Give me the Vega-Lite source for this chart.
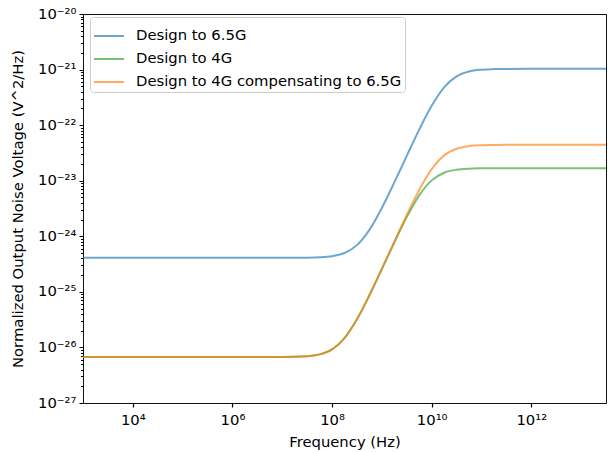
{
  "$schema": "https://vega.github.io/schema/vega-lite/v6.json",
  "width": 523,
  "height": 389,
  "autosize": "none",
  "padding": {"left": 83, "top": 14, "right": 2, "bottom": 49},
  "background": "white",
  "config": {
    "view": {"stroke": "#111", "strokeWidth": 1},
    "font": "DejaVu Sans",
    "axis": {"grid": false, "domain": false, "ticks": true, "labelFont": "DejaVu Sans", "titleFont": "DejaVu Sans", "labelColor": "#000", "titleColor": "#000", "tickColor": "#000", "tickOpacity": 1, "tickWidth": 1, "titleFontWeight": "normal", "labelFontSize": 14.8, "titleFontSize": 14.8, "labelOverlap": false, "labelFlush": false, "labelBound": false}
  },
  "data": {"values": [
    {"series": "Design to 6.5G", "f": 1e3, "v": 4.10e-25},
    {"series": "Design to 6.5G", "f": 1e4, "v": 4.10e-25},
    {"series": "Design to 6.5G", "f": 1e5, "v": 4.10e-25},
    {"series": "Design to 6.5G", "f": 1e6, "v": 4.10e-25},
    {"series": "Design to 6.5G", "f": 1e7, "v": 4.10e-25},
    {"series": "Design to 6.5G", "f": 3.162e7, "v": 4.13e-25},
    {"series": "Design to 6.5G", "f": 5.623e7, "v": 4.19e-25},
    {"series": "Design to 6.5G", "f": 1e8, "v": 4.39e-25},
    {"series": "Design to 6.5G", "f": 1.778e8, "v": 5.00e-25},
    {"series": "Design to 6.5G", "f": 3.162e8, "v": 6.93e-25},
    {"series": "Design to 6.5G", "f": 5.623e8, "v": 1.306e-24},
    {"series": "Design to 6.5G", "f": 1e9, "v": 3.236e-24},
    {"series": "Design to 6.5G", "f": 1.778e9, "v": 9.31e-24},
    {"series": "Design to 6.5G", "f": 3.162e9, "v": 2.80e-23},
    {"series": "Design to 6.5G", "f": 5.623e9, "v": 8.30e-23},
    {"series": "Design to 6.5G", "f": 1e10, "v": 2.228e-22},
    {"series": "Design to 6.5G", "f": 1.778e10, "v": 4.80e-22},
    {"series": "Design to 6.5G", "f": 3.162e10, "v": 7.55e-22},
    {"series": "Design to 6.5G", "f": 5.623e10, "v": 9.25e-22},
    {"series": "Design to 6.5G", "f": 1e11, "v": 9.95e-22},
    {"series": "Design to 6.5G", "f": 1.778e11, "v": 1.019e-21},
    {"series": "Design to 6.5G", "f": 3.162e11, "v": 1.026e-21},
    {"series": "Design to 6.5G", "f": 1e12, "v": 1.03e-21},
    {"series": "Design to 6.5G", "f": 1e13, "v": 1.03e-21},
    {"series": "Design to 6.5G", "f": 3.162e13, "v": 1.03e-21},
    {"series": "Design to 4G", "f": 1e3, "v": 6.70e-27},
    {"series": "Design to 4G", "f": 1e4, "v": 6.70e-27},
    {"series": "Design to 4G", "f": 1e5, "v": 6.70e-27},
    {"series": "Design to 4G", "f": 1e6, "v": 6.70e-27},
    {"series": "Design to 4G", "f": 1e7, "v": 6.73e-27},
    {"series": "Design to 4G", "f": 3.162e7, "v": 6.95e-27},
    {"series": "Design to 4G", "f": 5.623e7, "v": 7.50e-27},
    {"series": "Design to 4G", "f": 1e8, "v": 9.25e-27},
    {"series": "Design to 4G", "f": 1.778e8, "v": 1.476e-26},
    {"series": "Design to 4G", "f": 3.162e8, "v": 3.214e-26},
    {"series": "Design to 4G", "f": 5.623e8, "v": 8.67e-26},
    {"series": "Design to 4G", "f": 1e9, "v": 2.576e-25},
    {"series": "Design to 4G", "f": 1.778e9, "v": 7.74e-25},
    {"series": "Design to 4G", "f": 3.162e9, "v": 2.218e-24},
    {"series": "Design to 4G", "f": 5.623e9, "v": 5.46e-24},
    {"series": "Design to 4G", "f": 1e10, "v": 1.014e-23},
    {"series": "Design to 4G", "f": 1.778e10, "v": 1.393e-23},
    {"series": "Design to 4G", "f": 3.162e10, "v": 1.578e-23},
    {"series": "Design to 4G", "f": 5.623e10, "v": 1.648e-23},
    {"series": "Design to 4G", "f": 1e11, "v": 1.671e-23},
    {"series": "Design to 4G", "f": 1.778e11, "v": 1.680e-23},
    {"series": "Design to 4G", "f": 3.162e11, "v": 1.683e-23},
    {"series": "Design to 4G", "f": 1e12, "v": 1.683e-23},
    {"series": "Design to 4G", "f": 1e13, "v": 1.683e-23},
    {"series": "Design to 4G", "f": 3.162e13, "v": 1.683e-23},
    {"series": "Design to 4G compensating to 6.5G", "f": 1e3, "v": 6.70e-27},
    {"series": "Design to 4G compensating to 6.5G", "f": 1e4, "v": 6.70e-27},
    {"series": "Design to 4G compensating to 6.5G", "f": 1e5, "v": 6.70e-27},
    {"series": "Design to 4G compensating to 6.5G", "f": 1e6, "v": 6.70e-27},
    {"series": "Design to 4G compensating to 6.5G", "f": 1e7, "v": 6.73e-27},
    {"series": "Design to 4G compensating to 6.5G", "f": 3.162e7, "v": 6.95e-27},
    {"series": "Design to 4G compensating to 6.5G", "f": 5.623e7, "v": 7.50e-27},
    {"series": "Design to 4G compensating to 6.5G", "f": 1e8, "v": 9.25e-27},
    {"series": "Design to 4G compensating to 6.5G", "f": 1.778e8, "v": 1.476e-26},
    {"series": "Design to 4G compensating to 6.5G", "f": 3.162e8, "v": 3.214e-26},
    {"series": "Design to 4G compensating to 6.5G", "f": 5.623e8, "v": 8.71e-26},
    {"series": "Design to 4G compensating to 6.5G", "f": 1e9, "v": 2.600e-25},
    {"series": "Design to 4G compensating to 6.5G", "f": 1.778e9, "v": 7.98e-25},
    {"series": "Design to 4G compensating to 6.5G", "f": 3.162e9, "v": 2.415e-24},
    {"series": "Design to 4G compensating to 6.5G", "f": 5.623e9, "v": 6.82e-24},
    {"series": "Design to 4G compensating to 6.5G", "f": 1e10, "v": 1.618e-23},
    {"series": "Design to 4G compensating to 6.5G", "f": 1.778e10, "v": 2.858e-23},
    {"series": "Design to 4G compensating to 6.5G", "f": 3.162e10, "v": 3.767e-23},
    {"series": "Design to 4G compensating to 6.5G", "f": 5.623e10, "v": 4.198e-23},
    {"series": "Design to 4G compensating to 6.5G", "f": 1e11, "v": 4.345e-23},
    {"series": "Design to 4G compensating to 6.5G", "f": 1.778e11, "v": 4.395e-23},
    {"series": "Design to 4G compensating to 6.5G", "f": 3.162e11, "v": 4.416e-23},
    {"series": "Design to 4G compensating to 6.5G", "f": 1e12, "v": 4.426e-23},
    {"series": "Design to 4G compensating to 6.5G", "f": 1e13, "v": 4.426e-23},
    {"series": "Design to 4G compensating to 6.5G", "f": 3.162e13, "v": 4.426e-23}
  ]},
  "mark": {"type": "line", "strokeWidth": 2, "opacity": 0.65, "interpolate": "monotone", "clip": true},
  "encoding": {
    "x": {
      "field": "f", "type": "quantitative",
      "scale": {"type": "log", "domain": [1000, 3.162e13], "nice": false},
      "axis": {
        "title": "Frequency (Hz)",
        "values": [1e4, 1e6, 1e8, 1e10, 1e12],
        "tickCount": 100,
        "ticks": true,
        "tickSize": 4,
        "tickWidth": 1.2,
        "tickColor": "#000",
        "labelPadding": 5,
        "labelExpr": "round(log(datum.value)/LN10) < 10 ? '10' + substring('⁰¹²³⁴⁵⁶⁷⁸⁹', round(log(datum.value)/LN10), round(log(datum.value)/LN10) + 1) : '10¹' + substring('⁰¹²³⁴⁵⁶⁷⁸⁹', round(log(datum.value)/LN10) - 10, round(log(datum.value)/LN10) - 9)",
        "titleX": 261.5,
        "titleY": 43.5,
        "titleBaseline": "alphabetic",
        "titleAlign": "center"
      }
    },
    "y": {
      "field": "v", "type": "quantitative",
      "scale": {"type": "log", "domain": [1e-27, 1e-20], "nice": false},
      "axis": {
        "title": "Normalized Output Noise Voltage (V^2/Hz)",
        "values": [1e-27, 2e-27, 3e-27, 4e-27, 5e-27, 6e-27, 7e-27, 8e-27, 9e-27,
                   1e-26, 2e-26, 3e-26, 4e-26, 5e-26, 6e-26, 7e-26, 8e-26, 9e-26,
                   1e-25, 2e-25, 3e-25, 4e-25, 5e-25, 6e-25, 7e-25, 8e-25, 9e-25,
                   1e-24, 2e-24, 3e-24, 4e-24, 5e-24, 6e-24, 7e-24, 8e-24, 9e-24,
                   1e-23, 2e-23, 3e-23, 4e-23, 5e-23, 6e-23, 7e-23, 8e-23, 9e-23,
                   1e-22, 2e-22, 3e-22, 4e-22, 5e-22, 6e-22, 7e-22, 8e-22, 9e-22,
                   1e-21, 2e-21, 3e-21, 4e-21, 5e-21, 6e-21, 7e-21, 8e-21, 9e-21,
                   1e-20],
        "tickCount": 100,
        "ticks": true,
        "tickSize": {"condition": {"test": "abs(log(datum.value)/LN10 - round(log(datum.value)/LN10)) < 0.001", "value": 4}, "value": 2.5},
        "tickWidth": 1,
        "tickColor": "#000",
        "labelPadding": 3,
        "labelBaseline": "middle",
        "labelExpr": "abs(log(datum.value)/LN10 - round(log(datum.value)/LN10)) > 0.001 ? '' : '10⁻²' + substring('⁰¹²³⁴⁵⁶⁷⁸⁹', -round(log(datum.value)/LN10) - 20, -round(log(datum.value)/LN10) - 19)",
        "titleX": -65,
        "titleY": 194.5,
        "titleAngle": -90,
        "titleBaseline": "middle",
        "titleAlign": "center"
      }
    },
    "color": {
      "field": "series", "type": "nominal",
      "scale": {"domain": ["Design to 6.5G", "Design to 4G", "Design to 4G compensating to 6.5G"], "range": ["#1f77b4", "#2ca02c", "#ff7f0e"]},
      "legend": {
        "title": null,
        "orient": "none",
        "legendX": 7,
        "legendY": 3,
        "symbolType": "stroke",
        "symbolSize": 900,
        "symbolStrokeWidth": 2,
        "symbolOpacity": 0.65,
        "labelFontSize": 14.8,
        "labelFont": "DejaVu Sans",
        "labelColor": "#000",
        "labelOffset": 11,
        "labelLimit": 400,
        "rowPadding": -8,
        "padding": 3,
        "fillColor": "rgba(255,255,255,0.8)",
        "strokeColor": "#cccccc",
        "cornerRadius": 3
      }
    }
  }
}
